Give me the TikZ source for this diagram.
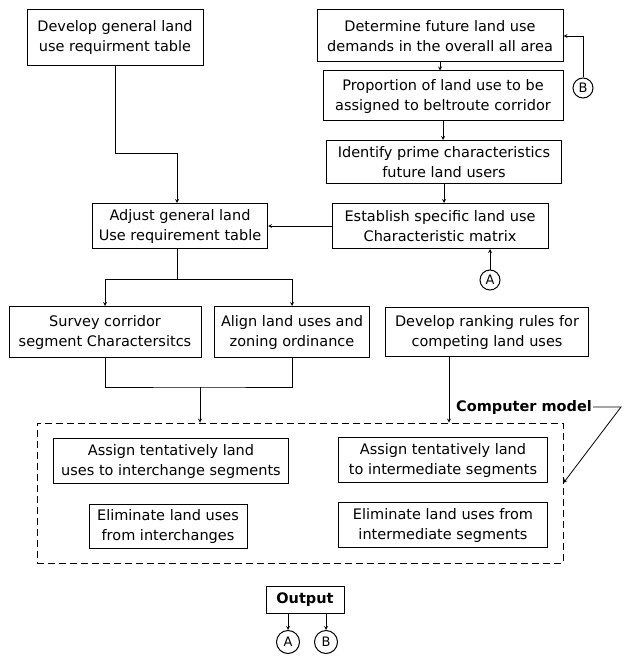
\documentclass[tikz,border=0pt]{standalone}
\usepackage{fontspec}
\setmainfont{DejaVu Sans}
\begin{document}
\begin{tikzpicture}[>=stealth, x=1pt, y=-1pt, line width=0.8pt,
  box/.style={draw, rectangle, line width=1pt, align=center, inner sep=1pt, font=\fontsize{14.5}{20}\selectfont},
  tag/.style={draw, circle, line width=1pt, inner sep=0pt, minimum size=20pt, font=\fontsize{13}{14}\selectfont}]
\useasboundingbox (0,0) rectangle (624,658);
\node[box, minimum width=176pt, minimum height=56pt] (dev) at (115,38) {Develop general land\\use requirment table};
\node[box, minimum width=246pt, minimum height=52pt] (det) at (440,36) {Determine future land use\\demands in the overall all area};
\node[box, minimum width=240pt, minimum height=50pt] (prop) at (443,96) {Proportion of land use to be\\assigned to beltroute corridor};
\node[box, minimum width=235pt, minimum height=43pt] (iden) at (444,162) {Identify prime characteristics\\future land users};
\node[box, minimum width=216pt, minimum height=45pt] (est) at (440,226) {Establish specific land use\\Characteristic matrix};
\node[box, minimum width=175pt, minimum height=45pt] (adj) at (180,226) {Adjust general land\\Use requirement table};
\node[box, minimum width=192pt, minimum height=51pt] (surv) at (105,332) {Survey corridor\\segment Charactersitcs};
\node[box, minimum width=155pt, minimum height=51pt] (align) at (292,332) {Align land uses and\\zoning ordinance};
\node[box, minimum width=203pt, minimum height=49pt] (rank) at (487,332) {Develop ranking rules for\\competing land uses};
\node[draw, dash pattern=on 7pt off 4pt, minimum width=526pt, minimum height=140pt] (model) at (300,493) {};
\node[font=\fontsize{14.5}{16}\selectfont\bfseries, inner sep=1pt] (mlab) at (524,407) {Computer model};
\node[box, minimum width=235pt, minimum height=45pt] (asgi) at (171,461) {Assign tentatively land\\uses to interchange segments};
\node[box, minimum width=158pt, minimum height=44pt] (elii) at (168,526) {Eliminate land uses\\from interchanges};
\node[box, minimum width=209pt, minimum height=45pt] (asgm) at (443,460) {Assign tentatively land\\to intermediate segments};
\node[box, minimum width=209pt, minimum height=45pt] (elim) at (443,525) {Eliminate land uses from\\intermediate segments};
\node[box, font=\fontsize{14.5}{16}\selectfont\bfseries, minimum width=78pt, minimum height=27pt] (out) at (305,600) {Output};
\node[tag] (a1) at (490,280) {A};
\node[tag] (b1) at (583,88) {B};
\node[tag, minimum size=23pt] (a2) at (288,642) {A};
\node[tag, minimum size=23pt] (b2) at (326,642) {B};
\coordinate (j1) at (177,153);
\coordinate (j2) at (177,279);
\coordinate (j3) at (200,387);
\coordinate (bend) at (621,407);
% top right chain
\draw[->] (det.south) -- (det.south |- prop.north);
\draw[->] (prop.south) -- (prop.south |- iden.north);
\draw[->] (iden.south) -- (iden.south |- est.north);
\draw[->] (b1.north) |- (det.east);
\draw[->] (a1.north) -- (a1.north |- est.south);
\draw[->] (est.west) -- (adj.east);
\draw[->] (dev.south) |- (j1) -- (j1 |- adj.north);
% split and merge
\draw (adj.south -| j2) -- (j2);
\draw[->] (j2) -| (surv.north);
\draw[->] (j2) -| (align.north);
\draw (surv.south) |- (j3) -| (align.south);
\draw[->] (j3) -- (j3 |- model.north);
\draw[->] ([xshift=-38pt]rank.south) -- ([xshift=-38pt]rank.south |- model.north);
\draw[->] (mlab.east) -- (bend) -- ([yshift=10pt]model.east);
% output
\draw[->] (out.south -| a2) -- (a2.north);
\draw[->] (out.south -| b2) -- (b2.north);
\end{tikzpicture}
\end{document}
